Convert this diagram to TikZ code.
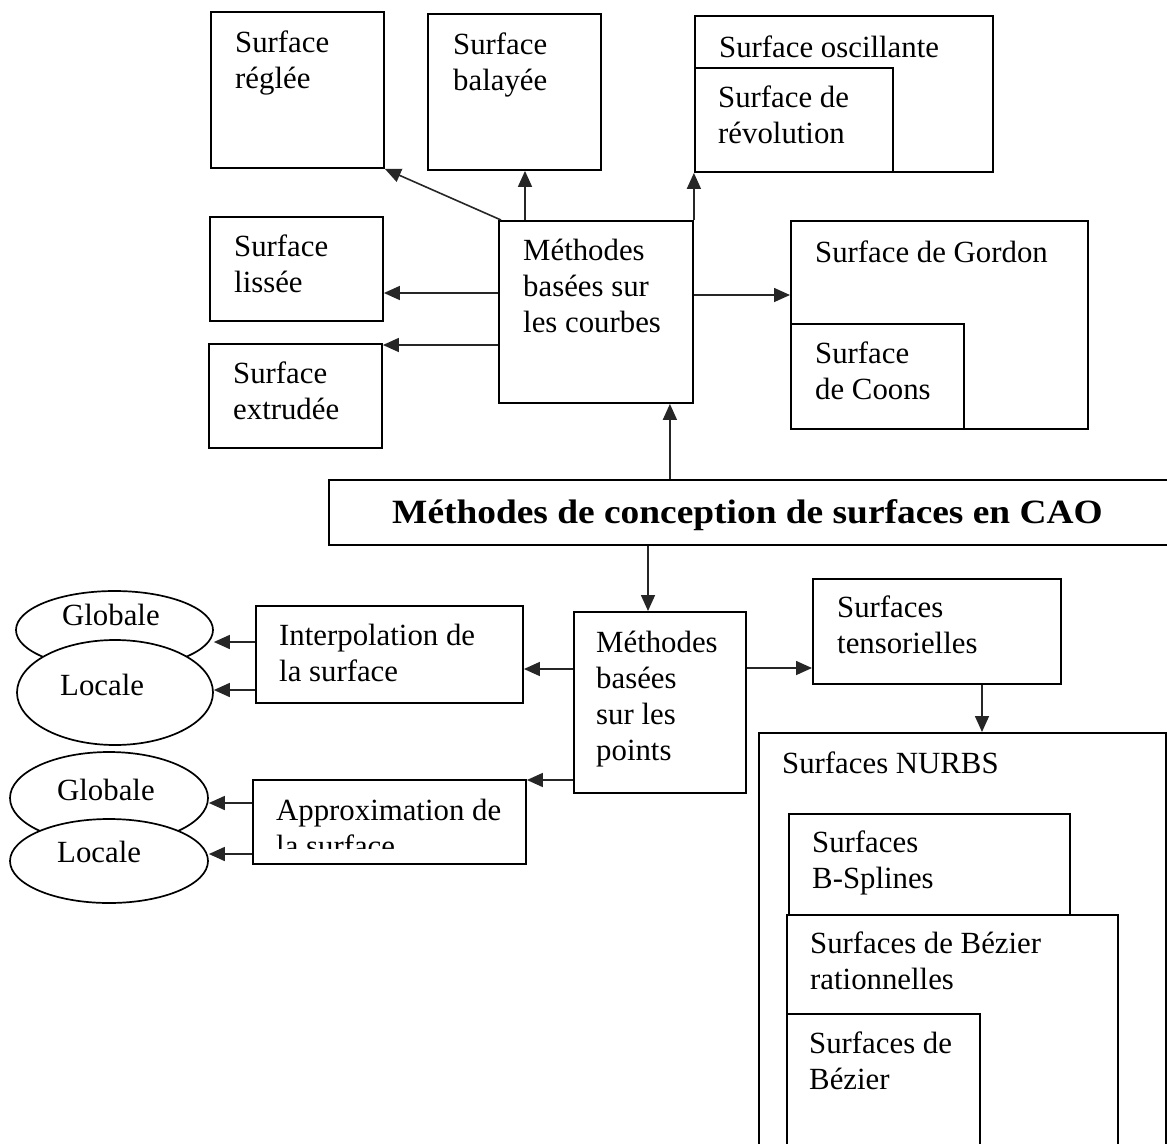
\documentclass[tikz,border=0pt]{standalone}
\usepackage{fontspec}
\usepackage{graphicx}
\setmainfont{Liberation Serif}
\usetikzlibrary{arrows.meta,shapes.geometric,calc}
\newcommand\mylines[1]{\begin{tabular}[t]{@{}l@{}}#1\end{tabular}}
\begin{document}
\begin{tikzpicture}[x=1bp,y=-1bp,
 box/.style={draw=black, line width=1.9bp, rectangle, inner sep=0pt, anchor=north west, fill=white},
 ell/.style={draw=black, line width=1.7bp, ellipse, inner sep=0pt, fill=white},
 txt/.style={anchor=base west, inner sep=0pt, font=\fontsize{30.8bp}{36bp}\selectfont},
 ttl/.style={anchor=base west, inner sep=0pt, font=\fontsize{34bp}{40bp}\selectfont\bfseries},
 arr/.style={line width=1.6bp, color=black!85, -{Triangle[length=16bp,width=14bp]}}]
\useasboundingbox (0,0) rectangle (1167,1144);
\clip (0,0) rectangle (1167,1144);
% boxes - top part
\node[box, minimum width=173bp, minimum height=156bp] (reglee) at (210,11) {};
\node[box, minimum width=173bp, minimum height=156bp] (balayee) at (427,13) {};
\node[box, minimum width=298bp, minimum height=156bp] (osc) at (694,15) {};
\node[box, minimum width=198bp, minimum height=104bp] (rev) at (694,67) {};
\node[box, minimum width=173bp, minimum height=104bp] (lissee) at (209,216) {};
\node[box, minimum width=173bp, minimum height=104bp] (extrudee) at (208,343) {};
\node[box, minimum width=194bp, minimum height=182bp] (courbes) at (498,220) {};
\node[box, minimum width=297bp, minimum height=208bp] (gordon) at (790,220) {};
\node[box, minimum width=173bp, minimum height=105bp] (coons) at (790,323) {};
% title
\node[box, minimum width=852bp, minimum height=65bp] (title) at (328,479) {};
% bottom part
\node[box, minimum width=267bp, minimum height=97bp] (interp) at (255,605) {};
\node[box, minimum width=273bp, minimum height=84bp] (approx) at (252,779) {};
\node[box, minimum width=172bp, minimum height=181bp] (points) at (573,611) {};
\node[box, minimum width=248bp, minimum height=105bp] (tens) at (812,578) {};
\node[box, minimum width=407bp, minimum height=430bp] (nurbs) at (758,732) {};
\node[box, minimum width=281bp, minimum height=101bp] (bspl) at (788,813) {};
\node[box, minimum width=331bp, minimum height=250bp] (bezrat) at (786,914) {};
\node[box, minimum width=193bp, minimum height=150bp] (bez) at (786,1013) {};
% ellipses
\node[ell, minimum width=197bp, minimum height=78bp] (glob1) at (114.5,630) {};
\node[ell, minimum width=196bp, minimum height=105bp] (loc1) at (115,692.5) {};
\node[ell, minimum width=198bp, minimum height=92bp] (glob2) at (109,798) {};
\node[ell, minimum width=198bp, minimum height=84bp] (loc2) at (109,861) {};
% connectors - top
\draw[arr] ([xshift=3bp]courbes.north west) -- (reglee.south east);
\draw[arr] ([xshift=27bp]courbes.north west) -- ([xshift=27bp]courbes.north west |- balayee.south);
\draw[arr] (courbes.north east) -- (courbes.north east |- osc.south);
\draw[arr] ([yshift=-73bp]courbes.north west) -- ([yshift=-73bp]courbes.north west -| lissee.east);
\draw[arr] ([yshift=-125bp]courbes.north west) -- ([yshift=-125bp]courbes.north west -| extrudee.east);
\draw[arr] ([yshift=-75bp]courbes.north east) -- ([yshift=-75bp]courbes.north east -| gordon.west);
\draw[arr] ([xshift=-24bp]courbes.south east |- title.north) -- ([xshift=-24bp]courbes.south east);
% connectors - bottom
\draw[arr] ([xshift=75bp]points.north west |- title.south) -- ([xshift=75bp]points.north west);
\draw[arr] ([yshift=-57bp]points.north east) -- ([yshift=-57bp]points.north east -| tens.west);
\draw[arr] ([xshift=170bp]tens.south west) -- ([xshift=170bp]tens.south west |- nurbs.north);
\draw[arr] ([yshift=-58bp]points.north west) -- ([yshift=-58bp]points.north west -| interp.east);
\draw[arr] ([yshift=-169bp]points.north west) -- ([yshift=-169bp]points.north west -| approx.east);
\draw[arr] ([yshift=-37bp]interp.north west) -- ([yshift=-37bp]interp.north west -| glob1.east);
\draw[arr] ([yshift=-85bp]interp.north west) -- ([yshift=-85bp]interp.north west -| loc1.east);
\draw[arr] ([yshift=-24bp]approx.north west) -- ([yshift=-24bp]approx.north west -| glob2.east);
\draw[arr] ([yshift=-75bp]approx.north west) -- ([yshift=-75bp]approx.north west -| loc2.east);
% texts
\node[txt] (t1) at (235,52) {\mylines{Surface\\réglée}};
\node[txt] (t2) at (453,54) {\mylines{Surface\\balayée}};
\node[txt] (t3) at (719,57) {Surface oscillante};
\node[txt] (t4) at (718,107) {\mylines{Surface de\\révolution}};
\node[txt] (t5) at (234,256) {\mylines{Surface\\lissée}};
\node[txt] (t6) at (233,383) {\mylines{Surface\\extrudée}};
\node[txt] (t7) at (523,260) {\mylines{Méthodes\\basées sur\\les courbes}};
\node[txt] (t8) at (815,262) {Surface de Gordon};
\node[txt] (t9) at (815,363) {\mylines{Surface\\de Coons}};
\node[ttl] (t10) at (392,523) {\scalebox{1.1}[1]{Méthodes de conception de surfaces en CAO}};
\node[txt] (t11) at (279,645) {\mylines{Interpolation de\\la surface}};
\begin{scope}
\clip (252,779) rectangle (525,848);
\node[txt] (t12) at (276,820) {\mylines{Approximation de\\la surface}};
\end{scope}
\node[txt] (t13) at (596,652) {\mylines{Méthodes\\basées\\sur les\\points}};
\node[txt] (t14) at (837,617) {\mylines{Surfaces\\tensorielles}};
\node[txt] (t15) at (782,773) {Surfaces NURBS};
\node[txt] (t16) at (812,852) {\mylines{Surfaces\\B-Splines}};
\node[txt] (t17) at (810,953) {\mylines{Surfaces de Bézier\\rationnelles}};
\node[txt] (t18) at (809,1053) {\mylines{Surfaces de\\Bézier}};
\node[txt] (t19) at (62,625) {Globale};
\node[txt] (t20) at (60,695) {Locale};
\node[txt] (t21) at (57,800) {Globale};
\node[txt] (t22) at (57,862) {Locale};
\end{tikzpicture}
\end{document}
